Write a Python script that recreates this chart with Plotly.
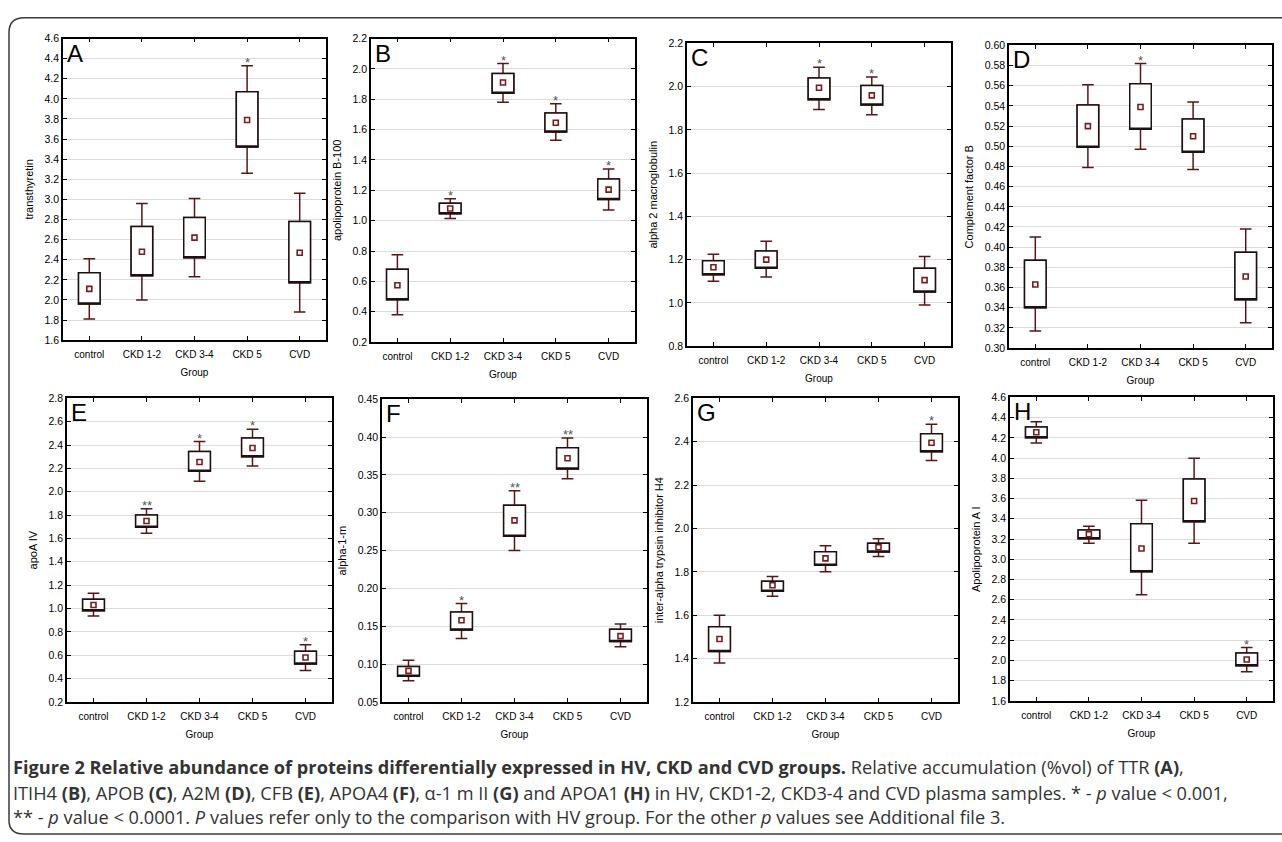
import plotly.graph_objects as go

W, H = 1282, 842

groups = ["control", "CKD 1-2", "CKD 3-4", "CKD 5", "CVD"]

# Panel A - transthyretin
a_wlo = [1.81, 2.00, 2.23, 3.26, 1.88]
a_blo = [1.96, 2.24, 2.42, 3.52, 2.17]
a_mean = [2.11, 2.48, 2.62, 3.79, 2.47]
a_bhi = [2.27, 2.73, 2.82, 4.07, 2.78]
a_whi = [2.41, 2.96, 3.01, 4.33, 3.06]
a_sig = ["", "", "", "*", ""]

# Panel B - apolipoprotein B-100
b_wlo = [0.38, 1.015, 1.78, 1.53, 1.07]
b_blo = [0.48, 1.045, 1.84, 1.585, 1.14]
b_mean = [0.575, 1.08, 1.91, 1.645, 1.205]
b_bhi = [0.68, 1.115, 1.97, 1.71, 1.275]
b_whi = [0.775, 1.145, 2.035, 1.77, 1.34]
b_sig = ["", "*", "*", "*", "*"]

# Panel C - alpha 2 macroglobulin
c_wlo = [1.10, 1.12, 1.895, 1.87, 0.99]
c_blo = [1.13, 1.16, 1.94, 1.915, 1.05]
c_mean = [1.165, 1.20, 1.995, 1.96, 1.105]
c_bhi = [1.195, 1.24, 2.04, 2.005, 1.16]
c_whi = [1.225, 1.285, 2.09, 2.045, 1.215]
c_sig = ["", "", "*", "*", ""]

# Panel D - Complement factor B
d_wlo = [0.317, 0.479, 0.497, 0.477, 0.325]
d_blo = [0.340, 0.499, 0.517, 0.494, 0.348]
d_mean = [0.363, 0.520, 0.539, 0.510, 0.371]
d_bhi = [0.387, 0.541, 0.562, 0.527, 0.395]
d_whi = [0.410, 0.561, 0.582, 0.544, 0.418]
d_sig = ["", "", "*", "", ""]

# Panel E - apoA IV
e_wlo = [0.935, 1.645, 2.09, 2.22, 0.47]
e_blo = [0.98, 1.695, 2.175, 2.30, 0.525]
e_mean = [1.03, 1.75, 2.255, 2.375, 0.58]
e_bhi = [1.08, 1.80, 2.345, 2.46, 0.635]
e_whi = [1.13, 1.855, 2.43, 2.535, 0.69]
e_sig = ["", "**", "*", "*", "*"]

# Panel F - alpha-1-m
f_wlo = [0.078, 0.134, 0.250, 0.345, 0.123]
f_blo = [0.084, 0.145, 0.269, 0.358, 0.130]
f_mean = [0.091, 0.158, 0.290, 0.372, 0.137]
f_bhi = [0.097, 0.169, 0.310, 0.386, 0.146]
f_whi = [0.105, 0.180, 0.329, 0.399, 0.153]
f_sig = ["", "*", "**", "**", ""]

# Panel G - inter-alpha trypsin inhibitor H4
g_wlo = [1.38, 1.687, 1.80, 1.871, 2.313]
g_blo = [1.433, 1.710, 1.83, 1.891, 2.354]
g_mean = [1.49, 1.738, 1.862, 1.913, 2.395]
g_bhi = [1.547, 1.757, 1.893, 1.932, 2.437]
g_whi = [1.60, 1.779, 1.92, 1.952, 2.480]
g_sig = ["", "", "", "", "*"]

# Panel H - Apolipoprotein A I
h_wlo = [4.148, 3.159, 2.649, 3.159, 1.888]
h_blo = [4.200, 3.202, 2.876, 3.371, 1.949]
h_mean = [4.255, 3.247, 3.107, 3.576, 2.010]
h_bhi = [4.307, 3.289, 3.351, 3.793, 2.074]
h_whi = [4.359, 3.325, 3.582, 3.998, 2.128]
h_sig = ["", "", "", "", "*"]

panels = [
    dict(letter="A", title="transthyretin", rng=[1.6, 4.6], dt=0.2, fmt=".1f",
         box=(63, 33, 326, 339), d=(a_wlo, a_blo, a_mean, a_bhi, a_whi, a_sig)),
    dict(letter="B", title="apolipoprotein B-100", rng=[0.2, 2.2], dt=0.2, fmt=".1f",
         box=(371, 33, 635, 341), d=(b_wlo, b_blo, b_mean, b_bhi, b_whi, b_sig)),
    dict(letter="C", title="alpha 2 macroglobulin", rng=[0.8, 2.2], dt=0.2, fmt=".1f",
         box=(687, 38, 951, 345), d=(c_wlo, c_blo, c_mean, c_bhi, c_whi, c_sig)),
    dict(letter="D", title="Complement factor B", rng=[0.30, 0.60], dt=0.02, fmt=".2f",
         box=(1009, 40, 1272, 347), d=(d_wlo, d_blo, d_mean, d_bhi, d_whi, d_sig)),
    dict(letter="E", title="apoA IV", rng=[0.2, 2.8], dt=0.2, fmt=".1f",
         box=(67, 398, 332, 706), d=(e_wlo, e_blo, e_mean, e_bhi, e_whi, e_sig)),
    dict(letter="F", title="alpha-1-m", rng=[0.05, 0.45], dt=0.05, fmt=".2f",
         box=(382, 399, 647, 706), d=(f_wlo, f_blo, f_mean, f_bhi, f_whi, f_sig)),
    dict(letter="G", title="inter-alpha trypsin inhibitor H4", rng=[1.2, 2.6], dt=0.2, fmt=".1f",
         box=(693, 398, 958, 706), d=(g_wlo, g_blo, g_mean, g_bhi, g_whi, g_sig)),
    dict(letter="H", title="Apolipoprotein A I", rng=[1.6, 4.6], dt=0.2, fmt=".1f",
         box=(1010, 397, 1273, 705), d=(h_wlo, h_blo, h_mean, h_bhi, h_whi, h_sig)),
]

FONT = "Liberation Sans, Arial, sans-serif"
WHISK = "#5a1616"
BOXC = "#1c1010"
MEANC = "#7a1c1c"

def px(x):
    return x / W

def py(y):
    return 1 - y / H

fig = go.Figure()
annotations = []
xpos = list(range(len(groups)))

for i, p in enumerate(panels):
    n = "" if i == 0 else str(i + 1)
    xa, ya = "x" + n, "y" + n
    wlo, blo, mean, bhi, whi, sig = p["d"]
    x0, y0, x1, y1 = p["box"]
    # whiskers (red-brown)
    fig.add_trace(go.Box(
        x=xpos, q1=blo, median=blo, q3=bhi, lowerfence=wlo, upperfence=whi,
        xaxis=xa, yaxis=ya, width=0.41, whiskerwidth=0.54,
        line=dict(color=WHISK, width=1.5), fillcolor="white",
        showlegend=False, hoverinfo="skip"))
    # box (dark)
    fig.add_trace(go.Box(
        x=xpos, q1=blo, median=blo, q3=bhi, lowerfence=blo, upperfence=bhi,
        xaxis=xa, yaxis=ya, width=0.41, whiskerwidth=0,
        line=dict(color=BOXC, width=1.5), fillcolor="white",
        showlegend=False, hoverinfo="skip"))
    # means
    fig.add_trace(go.Scatter(
        x=xpos, y=mean, mode="markers", xaxis=xa, yaxis=ya,
        marker=dict(symbol="square-open", size=5, color=MEANC, line=dict(width=1.6)),
        showlegend=False, hoverinfo="skip"))
    for k, s in enumerate(sig):
        if s:
            annotations.append(dict(
                x=k, y=whi[k], xref=xa, yref=ya, text=s, showarrow=False,
                yanchor="bottom", yshift=-6,
                font=dict(family=FONT, size=13, color="#555555")))
    axis_common = dict(
        showline=True, linecolor="black", linewidth=1.5, mirror="ticks",
        ticks="inside", ticklen=4, tickcolor="black", tickwidth=1,
        zeroline=False)
    fig.update_layout(**{
        "xaxis" + n: dict(
            domain=[px(x0), px(x1)], anchor=ya, range=[-0.5, 4.5],
            tickvals=xpos, ticktext=groups, showgrid=False,
            tickfont=dict(family=FONT, size=10, color="black"),
            ticklabelstandoff=4,
            title=dict(text="Group", font=dict(family=FONT, size=10, color="black"),
                       standoff=10),
            **axis_common),
        "yaxis" + n: dict(
            domain=[py(y1), py(y0)], anchor=xa, range=p["rng"], dtick=p["dt"],
            tick0=p["rng"][0], tickformat=p["fmt"],
            showgrid=True, gridcolor="#dcdcdc", gridwidth=1,
            tickfont=dict(family=FONT, size=10.5, color="black"),
            title=dict(text=p["title"], font=dict(family=FONT, size=11, color="black"),
                       standoff=9),
            **axis_common),
    })
    annotations.append(dict(
        x=px(x0 + 2), y=py(y0 - 1), xref="paper", yref="paper", text=p["letter"],
        showarrow=False, xanchor="left", yanchor="top",
        font=dict(family=FONT, size=24, color="black")))

CAP = "'Open Sans', sans-serif"
cap_lines = [
    "<b>Figure 2 Relative abundance of proteins differentially expressed in HV, CKD and CVD groups.</b>"
    " Relative accumulation (%vol) of TTR <b>(A)</b>,",
    "ITIH4 <b>(B)</b>, APOB <b>(C)</b>, A2M <b>(D)</b>, CFB <b>(E)</b>, APOA4 <b>(F)</b>, "
    "α-1 m II <b>(G)</b> and APOA1 <b>(H)</b> in HV, CKD1-2, CKD3-4 and CVD plasma samples. "
    "* - <i>p</i> value &lt; 0.001,",
    "** - <i>p</i> value &lt; 0.0001. <i>P</i> values refer only to the comparison with HV group. "
    "For the other <i>p</i> values see Additional file 3.",
]
cap_y = [772, 798, 823]
for t, yy in zip(cap_lines, cap_y):
    annotations.append(dict(
        x=px(11), y=py(yy), xref="paper", yref="paper", text=t, showarrow=False,
        xanchor="left", yanchor="middle", align="left",
        font=dict(family=CAP, size=18.2, color="#333333")))

def conv(path):
    out = []
    for t in path.split():
        if "," in t:
            a, b = t.split(",")
            out.append(f"{px(float(a)):.5f},{py(float(b)):.5f}")
        else:
            out.append(t)
    return " ".join(out)

fig.add_shape(type="path",
              path=conv("M 9,826 L 9,27 Q 9,12 24,12 L 1300,12 L 1300,840 L 24,840 Q 9,840 9,826 Z"),
              xref="paper", yref="paper", line=dict(color="#3a3a3a", width=1.5),
              fillcolor="rgba(0,0,0,0)", layer="below")

fig.update_layout(
    width=W, height=H, margin=dict(l=0, r=0, t=0, b=0),
    paper_bgcolor="white", plot_bgcolor="white",
    boxmode="overlay", annotations=annotations, showlegend=False)

fig.write_html("out.html")
